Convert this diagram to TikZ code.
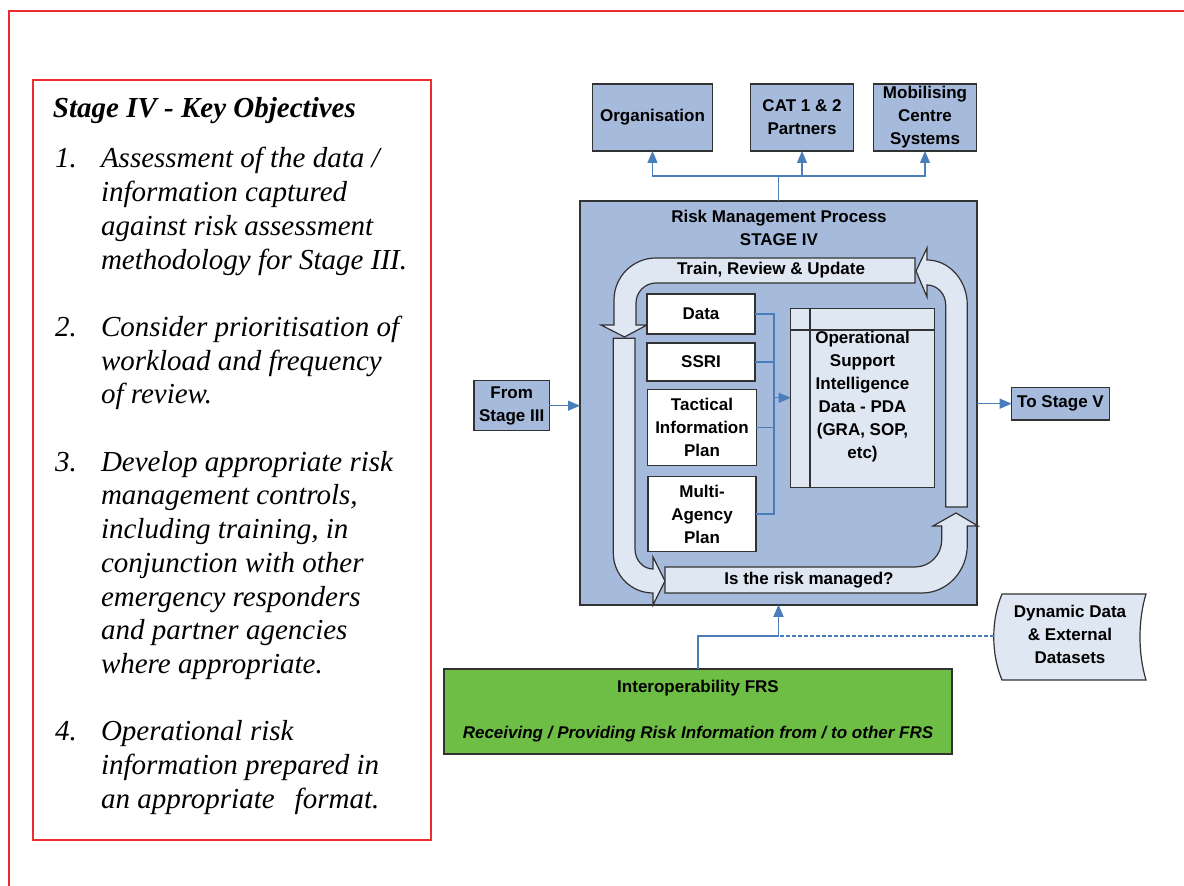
\documentclass[tikz,border=0pt]{standalone}
\usepackage{fontspec}
\setmainfont{Liberation Serif}
\newfontfamily\arialf{Liberation Sans}
\usetikzlibrary{arrows.meta}
\definecolor{boxblue}{RGB}{166,186,219}
\definecolor{lightblue}{RGB}{223,231,243}
\definecolor{lineblue}{RGB}{74,126,187}
\definecolor{greenbox}{RGB}{110,190,70}
\definecolor{framered}{RGB}{234,44,50}
\definecolor{edgegray}{RGB}{50,50,50}
\newcommand{\dgmfont}{\arialf\bfseries\fontsize{8.5}{11.5}\selectfont}
\newcommand{\objfont}{\itshape\fontsize{14.5}{16.85}\selectfont}
\begin{document}
\begin{tikzpicture}[x=0.5pt,y=-0.5pt,
  bluebox/.style={draw=edgegray,line width=0.6pt,fill=boxblue,inner sep=0pt,outer sep=0pt,align=center,font=\dgmfont},
  whitebox/.style={draw=edgegray,line width=0.6pt,fill=white,inner sep=0pt,outer sep=0pt,align=center,font=\dgmfont},
  lightbox/.style={draw=edgegray,line width=0.6pt,fill=lightblue,inner sep=0pt,outer sep=0pt,align=center,font=\dgmfont},
  greenfill/.style={draw=edgegray,line width=0.6pt,fill=greenbox,inner sep=0pt,outer sep=0pt,align=center,font=\dgmfont},
  dtext/.style={inner sep=0pt,outer sep=0pt,align=center,font=\dgmfont},
  otext/.style={inner sep=0pt,outer sep=0pt,anchor=base west,font=\objfont},
  conn/.style={draw=lineblue,line width=0.6pt},
  arr/.style={conn,-{Triangle[length=6pt,width=5pt]}},
  bentarrow/.style={draw=edgegray,line width=0.6pt,fill=lightblue,line join=miter},
  redline/.style={draw=framered,line width=1pt}
]
\useasboundingbox (0,0) rectangle (1184,886);

% red frames
\draw[redline] (9,886) -- (9,11) -- (1184,11);
\draw[redline] (33,80) rectangle (431,840);

% left text
\node[otext,font=\bfseries\objfont] (title) at (53,118) {Stage IV - Key Objectives};
\node[otext] (n1) at (55,168) {1.};
\node[otext] (a1) at (101,168) {Assessment of the data /};
\node[otext] (a2) at (101,201.7) {information captured};
\node[otext] (a3) at (101,235.4) {against risk assessment};
\node[otext] (a4) at (101,269.1) {methodology for Stage III.};
\node[otext] (n2) at (55,336.5) {2.};
\node[otext] (b1) at (101,336.5) {Consider prioritisation of};
\node[otext] (b2) at (101,370.2) {workload and frequency};
\node[otext] (b3) at (101,403.9) {of review.};
\node[otext] (n3) at (55,471.3) {3.};
\node[otext] (c1) at (101,471.3) {Develop appropriate risk};
\node[otext] (c2) at (101,505) {management controls,};
\node[otext] (c3) at (101,538.7) {including training, in};
\node[otext] (c4) at (101,572.4) {conjunction with other};
\node[otext] (c5) at (101,606.1) {emergency responders};
\node[otext] (c6) at (101,639.8) {and partner agencies};
\node[otext] (c7) at (101,673.5) {where appropriate.};
\node[otext] (n4) at (55,740.9) {4.};
\node[otext] (d1) at (101,740.9) {Operational risk};
\node[otext] (d2) at (101,774.6) {information prepared in};
\node[otext] (d3) at (101,808.3) {an appropriate\hspace{10pt}format.};

% top boxes
\node[bluebox,minimum width=60.25pt,minimum height=33.5pt] (org) at (652.5,117.5) {Organisation};
\node[bluebox,minimum width=51.7pt,minimum height=33.5pt] (cat) at (802,117.5) {CAT 1 \& 2\\Partners};
\node[bluebox,minimum width=51.7pt,minimum height=33.5pt] (mob) at (925,117.5) {Mobilising\\Centre\\Systems};

% main box
\node[bluebox,minimum width=198.5pt,minimum height=202pt] (main) at (778.5,403) {};
\node[dtext] (mtitle) at (779,228) {Risk Management Process\\STAGE IV};

% bent block arrows
\draw[bentarrow] (915,258) -- (656,258) .. controls (632.8,258) and (614,276.8) .. (614,300)
  -- (614,325) -- (601,325) -- (624.5,337) -- (647,325) -- (636,325) -- (636,303)
  .. controls (636,292) and (645,283) .. (656,283) -- (915,283) -- cycle;
\draw[bentarrow] (927,260) .. controls (949.2,260) and (967.3,280.2) .. (967.3,305)
  -- (967.3,507) -- (945.7,507) -- (945.7,305) .. controls (945.7,294) and (937.3,285) .. (927,285)
  -- (927,297) -- (916,271) -- (927,248) -- cycle;
\draw[bentarrow] (613.3,338.3) -- (635,338.3) -- (635,549) .. controls (635,560) and (643,569) .. (653,569)
  -- (653,557) -- (665,581) -- (653,605) -- (653,593) .. controls (631,593) and (613.3,575) .. (613.3,553) -- cycle;
\draw[bentarrow] (665,567) -- (915,567) .. controls (929.7,567) and (941.7,555) .. (941.7,540)
  -- (941.7,526) -- (933,526) -- (956,513) -- (978,526) -- (967.3,526) -- (967.3,545)
  .. controls (967.3,571.5) and (947,593) .. (922,593) -- (665,593) -- cycle;
\node[dtext] (trainlbl) at (771,270) {Train, Review \& Update};
\node[dtext] (risklbl) at (809,580) {Is the risk managed?};

% inner boxes
\node[whitebox,minimum width=54pt,minimum height=20pt] (data) at (701,314) {Data};
\node[whitebox,minimum width=54pt,minimum height=19pt] (ssri) at (701,362) {SSRI};
\node[whitebox,minimum width=54.3pt,minimum height=38.2pt] (tip) at (702,427.5) {Tactical\\Information\\Plan};
\node[whitebox,minimum width=54pt,minimum height=37.2pt] (mab) at (702,514) {Multi-\\Agency\\Plan};
\node[lightbox,minimum width=71.8pt,minimum height=89.5pt] (osi) at (862.5,397.8) {};
\draw[draw=edgegray,line width=0.6pt] ([xshift=9.65pt]osi.north west) -- ([xshift=9.65pt]osi.south west);
\draw[draw=edgegray,line width=0.6pt] ([yshift=-10.85pt]osi.north west) -- ([yshift=-10.85pt]osi.north east);
\node[dtext] (osilbl) at (862.5,397) {Operational\\Support\\Intelligence\\Data - PDA\\(GRA, SOP,\\etc)};

% side boxes
\node[bluebox,minimum width=37.7pt,minimum height=25pt] (from) at (511.7,405.7) {From\\Stage III};
\node[bluebox,minimum width=48.8pt,minimum height=16.4pt] (tov) at (1060.5,403.7) {To Stage V};

% bottom elements
\node[greenfill,minimum width=254pt,minimum height=42.5pt] (green) at (698,711.5)
  {Interoperability FRS\\[11.5pt]\itshape Receiving / Providing Risk Information from / to other FRS};
\draw[draw=edgegray,line width=0.6pt,fill=lightblue] (1002,594) -- (1146,594)
  .. controls (1138,620) and (1138,654) .. (1146,680) -- (1002,680)
  .. controls (991,654) and (991,620) .. (1002,594) -- cycle;
\node[dtext] (dyn) at (1070,634) {Dynamic Data\\\& External\\Datasets};
\coordinate (dynw) at (994,636);

% connectors
\coordinate (split) at (778.5,176);
\coordinate (bus) at (774,397.8);
\coordinate (join) at (778.5,636);
\draw[conn] (main.north) -- (split);
\draw[arr] (split) -| (org.south);
\draw[arr] (split) -| (cat.south);
\draw[arr] (split) -| (mob.south);
\draw[conn] (data.east) -| (bus);
\draw[conn] (ssri.east) -| (bus);
\draw[conn] (tip.east) -| (bus);
\draw[conn] (mab.east) -| (bus);
\draw[arr] (bus) -- (osi.west);
\draw[arr] (from.east) -- (from.east -| main.west);
\draw[arr] (tov.west -| main.east) -- (tov.west);
\draw[arr] (green.north) |- (join) -- (main.south);
\draw[arr,dash pattern=on 2pt off 1pt] (dynw) -- (join) -- (main.south);
\end{tikzpicture}
\end{document}
